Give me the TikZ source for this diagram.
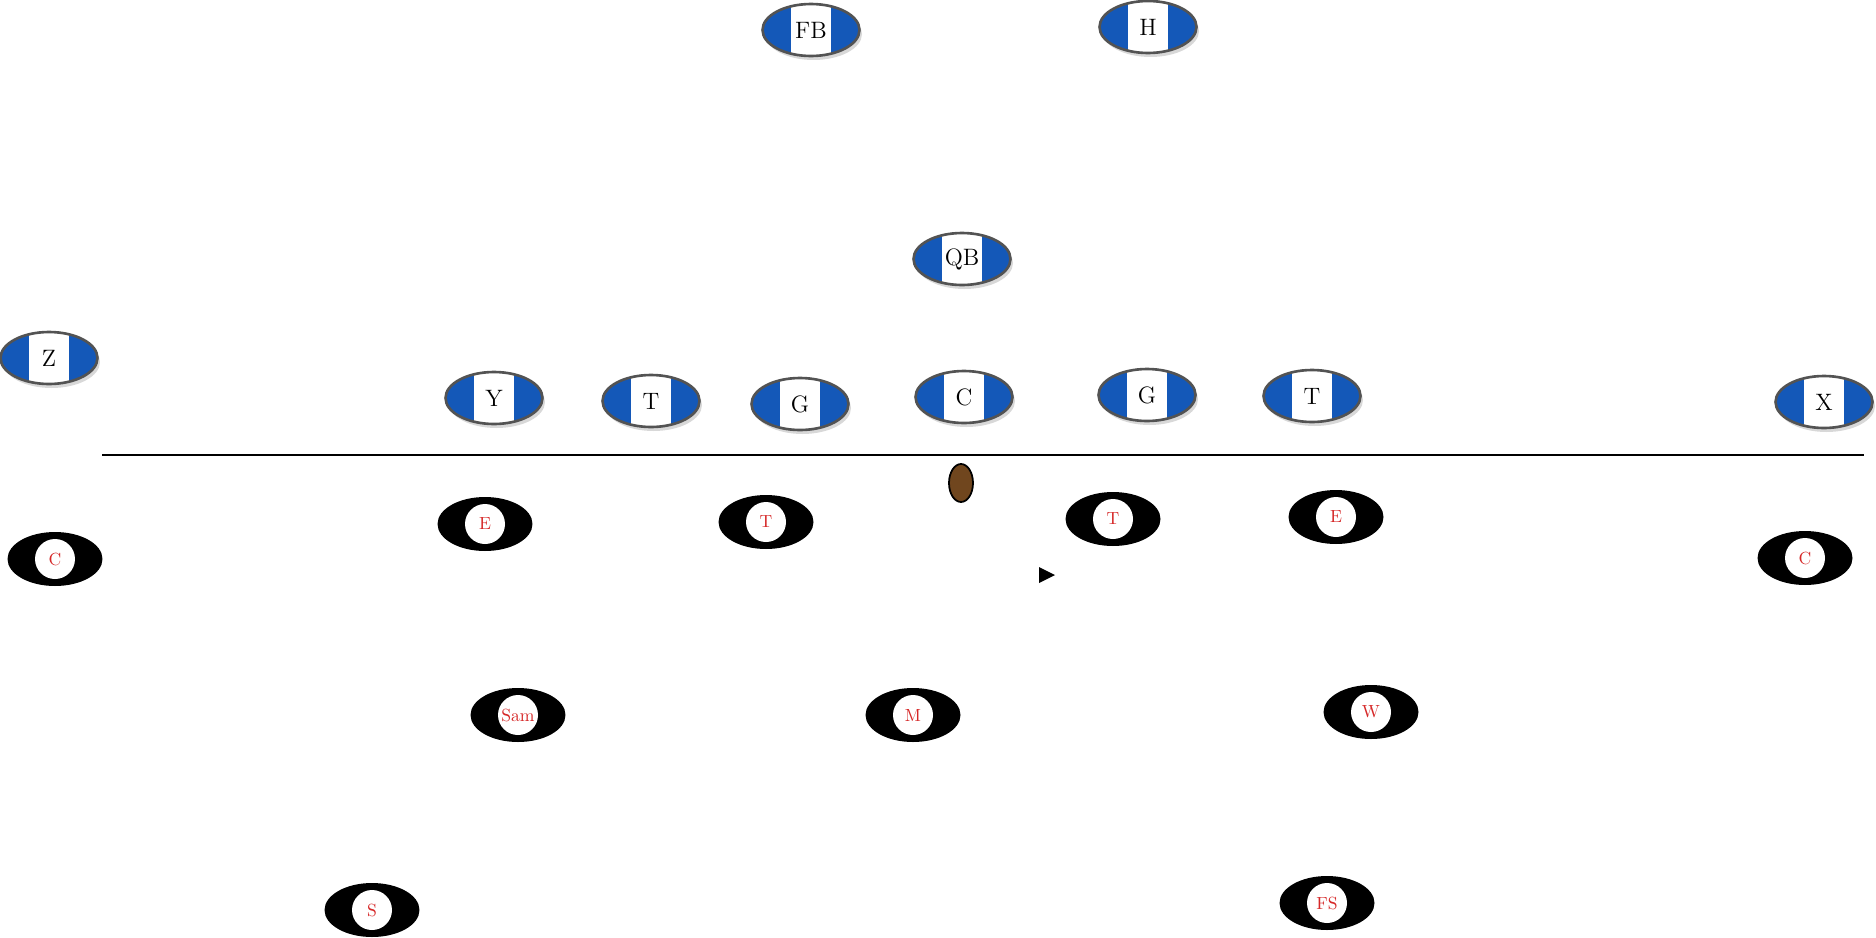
\documentclass[tikz,border=0pt]{standalone}
\usetikzlibrary{shapes.geometric,shadows}
\definecolor{OffBlue}{RGB}{20,88,184}
\definecolor{DefRed}{RGB}{214,40,40}
\definecolor{BallBrown}{RGB}{112,70,30}

\begin{document}
\begin{tikzpicture}[x=0.02cm,y=-0.02cm,
  off/.style={ellipse,minimum width=1.94cm,minimum height=1.04cm,inner sep=0pt,
    fill=OffBlue,draw=gray!65!black,line width=1.5pt,font=\fontsize{13.5}{15}\selectfont,
    drop shadow={shadow xshift=0.05cm,shadow yshift=-0.08cm,fill=gray!60},
    path picture={\fill[white] ([xshift=-0.4cm]path picture bounding box.north)
      rectangle ([xshift=0.4cm]path picture bounding box.south);}},
  def/.style={ellipse,minimum width=1.9cm,minimum height=1.08cm,inner sep=0pt,
    fill=black,text=DefRed,
    path picture={\fill[white] (path picture bounding box.center) circle (0.4cm);}},
  ball/.style={ellipse,minimum width=0.48cm,minimum height=0.76cm,inner sep=0pt,
    fill=BallBrown,draw=black,line width=1pt}]
\useasboundingbox (0,0) rectangle (1876,937);
% line of scrimmage
\coordinate (los west) at (102,455);
\coordinate (los east) at (1864,455);
\draw[line width=1pt] (los west) -- (los east);
% offense
\foreach \nm/\x/\y/\1 in %
{fb/811/30/FB,h/1148/27/H,qb/962/259/QB,z/49/358/Z,y/494/398/Y,lt/651/401/T,
 lg/800/404/G,c/964/397/C,rg/1147/395/G,rt/1312/396/T,x/1824/402/X} {
   \node[off] (o-\nm) at (\x,\y) {\1};
}
% defense
\foreach \nm/\x/\y/\1 in %
{le/485/524/E,lt/766/522/T,rt/1113/519/T,re/1336/517/E,lc/55/559/C,rc/1805/558/C,
 sam/518/715/Sam,m/913/715/M,w/1371/712/W,s/372/910/S,fs/1327/903/FS} {
   \node[def] (d-\nm) at (\x,\y) {\1};
}
\node[ball] (fball) at (961,483) {};
\fill (1039,567) -- (1055,575) -- (1039,583) -- cycle;
\end{tikzpicture}
\end{document}
